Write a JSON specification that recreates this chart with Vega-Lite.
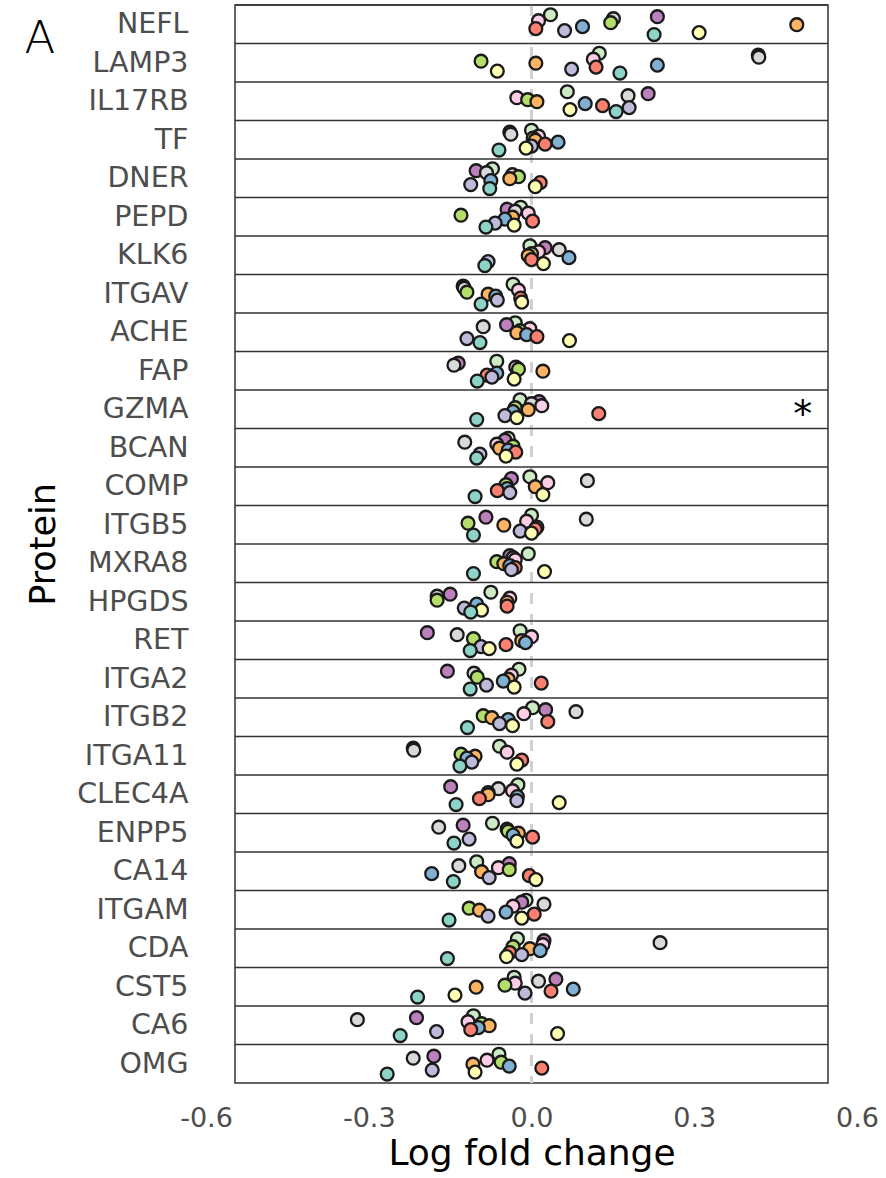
{
  "$schema": "https://vega.github.io/schema/vega-lite/v6.json",
  "width": 593,
  "height": 1078,
  "autosize": "none",
  "padding": {"left": 235, "top": 5, "right": 58, "bottom": 95},
  "config": {
    "font": "DejaVu Sans",
    "view": {"stroke": "#333333", "strokeWidth": 1.5},
    "background": "white"
  },
  "resolve": {"axis": {"x": "independent"}},
  "data": {"values": [
    {"p":"NEFL","G11":0.035,"G10":0.232,"G9":0.151,"G8":0.013,"G7":0.146,"G6":0.489,"G5":0.094,"G4":0.008,"G3":0.061,"G2":0.309,"G1":0.226},
    {"p":"LAMP3","G11":0.125,"G10":0.418,"G9":0.419,"G8":0.114,"G7":-0.093,"G6":0.008,"G5":0.232,"G4":0.119,"G3":0.074,"G2":-0.063,"G1":0.163},
    {"p":"IL17RB","G11":0.066,"G10":0.215,"G9":0.178,"G8":-0.027,"G7":-0.007,"G6":0.010,"G5":0.099,"G4":0.131,"G3":0.180,"G2":0.071,"G1":0.156},
    {"p":"TF","G11":0.000,"G10":-0.040,"G9":-0.038,"G8":0.013,"G7":0.003,"G6":0.007,"G5":0.049,"G4":0.025,"G3":0.000,"G2":-0.010,"G1":-0.060},
    {"p":"DNER","G11":-0.072,"G10":-0.102,"G9":-0.083,"G8":-0.035,"G7":-0.024,"G6":-0.040,"G5":-0.075,"G4":0.016,"G3":-0.112,"G2":0.007,"G1":-0.077},
    {"p":"PEPD","G11":-0.020,"G10":-0.045,"G9":-0.030,"G8":-0.006,"G7":-0.130,"G6":-0.035,"G5":-0.049,"G4":0.002,"G3":-0.067,"G2":-0.032,"G1":-0.084},
    {"p":"KLK6","G11":-0.003,"G10":0.025,"G9":0.051,"G8":0.013,"G7":0.000,"G6":-0.006,"G5":0.069,"G4":0.000,"G3":-0.080,"G2":0.022,"G1":-0.086},
    {"p":"ITGAV","G11":-0.034,"G10":-0.126,"G9":-0.124,"G8":-0.024,"G7":-0.119,"G6":-0.080,"G5":-0.066,"G4":-0.020,"G3":-0.063,"G2":-0.018,"G1":-0.093},
    {"p":"ACHE","G11":-0.030,"G10":-0.046,"G9":-0.089,"G8":-0.003,"G7":-0.021,"G6":-0.027,"G5":-0.009,"G4":0.010,"G3":-0.119,"G2":0.070,"G1":-0.095},
    {"p":"FAP","G11":-0.064,"G10":-0.135,"G9":-0.143,"G8":-0.029,"G7":-0.024,"G6":0.021,"G5":-0.064,"G4":-0.082,"G3":-0.073,"G2":-0.032,"G1":-0.100},
    {"p":"GZMA","G11":-0.021,"G10":0.014,"G9":0.000,"G8":0.019,"G7":-0.030,"G6":-0.006,"G5":-0.034,"G4":0.124,"G3":-0.049,"G2":-0.027,"G1":-0.101},
    {"p":"BCAN","G11":-0.043,"G10":-0.049,"G9":-0.123,"G8":-0.064,"G7":-0.034,"G6":-0.059,"G5":-0.043,"G4":-0.029,"G3":-0.095,"G2":-0.047,"G1":-0.101},
    {"p":"COMP","G11":-0.003,"G10":-0.037,"G9":0.103,"G8":0.030,"G7":-0.047,"G6":0.007,"G5":-0.045,"G4":-0.063,"G3":-0.040,"G2":0.021,"G1":-0.104},
    {"p":"ITGB5","G11":0.000,"G10":-0.084,"G9":0.101,"G8":-0.009,"G7":-0.117,"G6":-0.051,"G5":0.010,"G4":0.007,"G3":-0.021,"G2":0.000,"G1":-0.107},
    {"p":"MXRA8","G11":-0.006,"G10":-0.040,"G9":-0.034,"G8":-0.030,"G7":-0.064,"G6":-0.051,"G5":-0.040,"G4":-0.030,"G3":-0.037,"G2":0.024,"G1":-0.107},
    {"p":"HPGDS","G11":-0.075,"G10":-0.150,"G9":-0.174,"G8":-0.040,"G7":-0.174,"G6":-0.045,"G5":-0.101,"G4":-0.045,"G3":-0.124,"G2":-0.092,"G1":-0.112},
    {"p":"RET","G11":-0.021,"G10":-0.192,"G9":-0.137,"G8":0.000,"G7":-0.107,"G6":-0.018,"G5":-0.011,"G4":-0.047,"G3":-0.093,"G2":-0.078,"G1":-0.113},
    {"p":"ITGA2","G11":-0.023,"G10":-0.155,"G9":-0.106,"G8":-0.037,"G7":-0.100,"G6":-0.043,"G5":-0.052,"G4":0.018,"G3":-0.083,"G2":-0.032,"G1":-0.113},
    {"p":"ITGB2","G11":0.002,"G10":0.026,"G9":0.082,"G8":-0.014,"G7":-0.089,"G6":-0.073,"G5":-0.043,"G4":0.030,"G3":-0.059,"G2":-0.035,"G1":-0.118},
    {"p":"ITGA11","G11":-0.059,"G10":-0.218,"G9":-0.217,"G8":-0.045,"G7":-0.130,"G6":-0.104,"G5":-0.119,"G4":-0.018,"G3":-0.110,"G2":-0.027,"G1":-0.132},
    {"p":"CLEC4A","G11":-0.025,"G10":-0.149,"G9":-0.061,"G8":-0.035,"G7":-0.080,"G6":-0.080,"G5":-0.026,"G4":-0.096,"G3":-0.027,"G2":0.051,"G1":-0.139},
    {"p":"ENPP5","G11":-0.072,"G10":-0.126,"G9":-0.171,"G8":-0.045,"G7":-0.043,"G6":-0.024,"G5":-0.034,"G4":0.002,"G3":-0.115,"G2":-0.027,"G1":-0.143},
    {"p":"CA14","G11":-0.101,"G10":-0.041,"G9":-0.134,"G8":-0.061,"G7":-0.041,"G6":-0.092,"G5":-0.184,"G4":-0.004,"G3":-0.078,"G2":0.008,"G1":-0.144},
    {"p":"ITGAM","G11":-0.010,"G10":-0.018,"G9":0.023,"G8":-0.034,"G7":-0.115,"G6":-0.096,"G5":-0.047,"G4":0.005,"G3":-0.080,"G2":-0.018,"G1":-0.152},
    {"p":"CDA","G11":-0.026,"G10":0.023,"G9":0.237,"G8":0.021,"G7":-0.034,"G6":-0.003,"G5":0.016,"G4":-0.040,"G3":-0.018,"G2":-0.046,"G1":-0.155},
    {"p":"CST5","G11":-0.032,"G10":0.045,"G9":0.013,"G8":-0.030,"G7":-0.049,"G6":-0.102,"G5":0.077,"G4":0.036,"G3":-0.012,"G2":-0.141,"G1":-0.210},
    {"p":"CA6","G11":-0.107,"G10":-0.212,"G9":-0.321,"G8":-0.117,"G7":-0.092,"G6":-0.078,"G5":-0.098,"G4":-0.112,"G3":-0.175,"G2":0.048,"G1":-0.242},
    {"p":"OMG","G11":-0.060,"G10":-0.180,"G9":-0.218,"G8":-0.082,"G7":-0.056,"G6":-0.108,"G5":-0.041,"G4":0.019,"G3":-0.183,"G2":-0.104,"G1":-0.266}
  ]},
  "layer": [
    {
      "data": {"values": [{"v": 0}]},
      "mark": {"type": "rule", "color": "#D0D0D0", "strokeWidth": 3, "strokeDash": [11, 10]},
      "encoding": {
        "x": {
          "field": "v", "type": "quantitative", "title": "A",
          "axis": {
            "orient": "top", "labels": false, "ticks": false, "domain": false, "grid": false,
            "titleX": -211, "titleY": 47, "titleAlign": "left", "titleBaseline": "alphabetic", "titleAngle": 0,
            "titleFontSize": 45, "titleFontWeight": 200, "titleColor": "black", "titleFont": "DejaVu Sans"
          }
        }
      }
    },
    {
      "mark": {"type": "rule", "color": "#333333", "strokeWidth": 1.5},
      "encoding": {
        "y": {"field": "p", "type": "nominal", "bandPosition": 0, "title": "Protein"}
      }
    },
    {
      "transform": [
        {"fold": ["G11","G10","G9","G8","G7","G6","G5","G4","G3","G2","G1"], "as": ["g", "v"]}
      ],
      "mark": {"type": "circle", "size": 165, "opacity": 1, "stroke": "#1a1a1a", "strokeWidth": 2.3},
      "encoding": {
        "x": {
          "field": "v", "type": "quantitative", "title": "Log fold change",
          "scale": {"domain": [-0.6, 0.6], "range": [-29, 622], "nice": false, "zero": false},
          "axis": {
            "orient": "bottom",
            "values": [-0.6, -0.3, 0, 0.3, 0.6], "format": ".1f",
            "labelExpr": "replace(datum.label, '\u2212', '-')",
            "domain": false, "ticks": false, "grid": false, "labelFlush": false,
            "labelFontSize": 27, "labelColor": "#4D4D4D", "labelPadding": 22,
            "titleFontSize": 36, "titleFontWeight": "normal", "titleColor": "black", "titlePadding": 5
          }
        },
        "y": {
          "field": "p", "type": "nominal", "title": "Protein",
          "scale": {"paddingInner": 0, "paddingOuter": 0, "domain": ["NEFL","LAMP3","IL17RB","TF","DNER","PEPD","KLK6","ITGAV","ACHE","FAP","GZMA","BCAN","COMP","ITGB5","MXRA8","HPGDS","RET","ITGA2","ITGB2","ITGA11","CLEC4A","ENPP5","CA14","ITGAM","CDA","CST5","CA6","OMG"]},
          "axis": {
            "domain": false, "ticks": false, "grid": false,
            "labelFontSize": 28.5, "labelColor": "#4D4D4D", "labelPadding": 47,
            "titleFontSize": 35, "titleFontWeight": "normal", "titleColor": "black", "titlePadding": 15
          }
        },
        "yOffset": {
          "field": "g", "type": "nominal",
          "scale": {"domain": ["G11","G10","G9","G8","G7","G6","G5","G4","G3","G2","G1"], "range": [9.7, 29.6], "paddingInner": 0, "paddingOuter": 0}
        },
        "color": {
          "field": "g", "type": "nominal", "legend": null,
          "scale": {
            "domain": ["G1","G2","G3","G4","G5","G6","G7","G8","G9","G10","G11"],
            "range": ["#8DD3C7","#FFFFB3","#BEBADA","#FB8072","#80B1D3","#FDB462","#B3DE69","#FCCDE5","#D9D9D9","#BC80BD","#CCEBC5"]
          }
        }
      }
    },
    {
      "data": {"values": [{"p": "GZMA", "v": 0.5, "t": "*"}]},
      "mark": {"type": "text", "fontSize": 38, "color": "black", "align": "center", "baseline": "alphabetic", "dy": 18},
      "encoding": {
        "x": {"field": "v", "type": "quantitative", "axis": null},
        "y": {"field": "p", "type": "nominal", "title": "Protein"},
        "text": {"field": "t"}
      }
    }
  ]
}
